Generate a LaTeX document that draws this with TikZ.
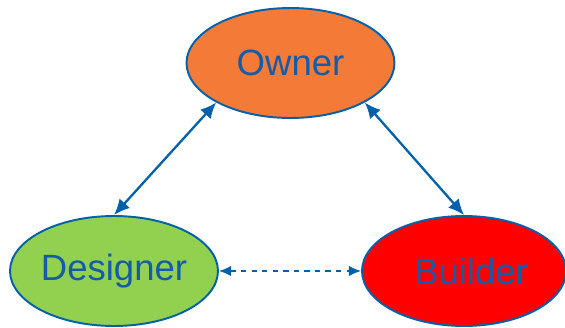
\documentclass[tikz,border=0pt]{standalone}
\usepackage{fontspec}
\setmainfont{Liberation Sans}
\usepackage{tikz}
\usetikzlibrary{shapes.geometric,arrows.meta}

\definecolor{lineblue}{RGB}{0,96,170}
\definecolor{textblue}{RGB}{20,92,168}
\definecolor{ownerorange}{RGB}{244,122,56}
\definecolor{designergreen}{RGB}{146,208,80}
\definecolor{builderred}{RGB}{255,0,0}

\begin{document}
\begin{tikzpicture}[x=0.02cm, y=-0.02cm,
  party/.style={ellipse, draw=lineblue, line width=1.1pt, inner sep=0pt,
    minimum width=4.16cm, minimum height=2.2cm, text=textblue,
    font=\fontsize{20.8}{24}\selectfont},
  link/.style={draw=lineblue, line width=1.3pt,
    {Latex[length=9pt,width=8pt]}-{Latex[length=9pt,width=8pt]}}]
  \useasboundingbox (0,0) rectangle (565,328);
  \node[party, fill=ownerorange] at (290.5,63) (o) {Owner};
  \node[party, fill=designergreen] at (114,271) (d) {Designer};
  \node[party, fill=builderred, minimum width=4.08cm] at (464,271) (b) {\hspace{8pt}Builder};
  \draw [link] (o.208) -- (d.north);
  \draw [link] (o.-28) -- (b.north);
  \draw [link, line width=0.8pt, dashed,
    {Latex[length=7pt,width=6pt]}-{Latex[length=7pt,width=6pt]}] (d.east) -- (b.west);
\end{tikzpicture}
\end{document}
